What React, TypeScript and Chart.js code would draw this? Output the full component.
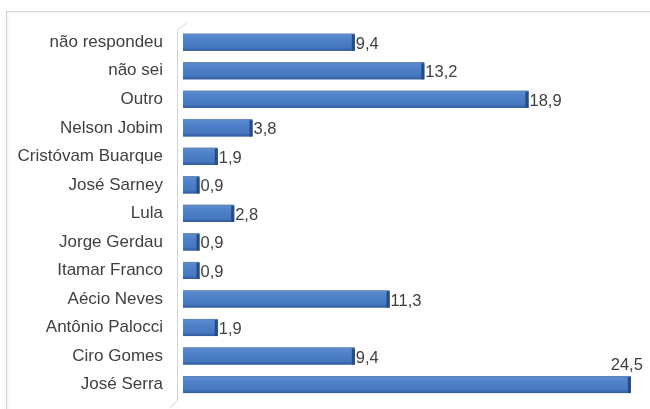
import React, { useEffect, useRef } from "react";
import { Chart, registerables } from "chart.js";

Chart.register(...registerables);

const categories = [
  "não respondeu",
  "não sei",
  "Outro",
  "Nelson Jobim",
  "Cristóvam Buarque",
  "José Sarney",
  "Lula",
  "Jorge Gerdau",
  "Itamar Franco",
  "Aécio Neves",
  "Antônio Palocci",
  "Ciro Gomes",
  "José Serra",
];
const values = [9.4, 13.2, 18.9, 3.8, 1.9, 0.9, 2.8, 0.9, 0.9, 11.3, 1.9, 9.4, 24.5];
const valueLabels = values.map((v) => v.toFixed(1).replace(".", ","));

const FONT = "'Liberation Sans', Arial, sans-serif";

const decorPlugin = {
  id: "decor",
  beforeDatasetsDraw(chart: any) {
    const { ctx, chartArea } = chart;
    ctx.save();
    ctx.strokeStyle = "#d4d4d4";
    ctx.lineWidth = 1;
    const x = chartArea.left - 5.5;
    ctx.beginPath();
    ctx.moveTo(x + 10, chartArea.top - 6);
    ctx.lineTo(x, chartArea.top + 2);
    ctx.lineTo(x, chartArea.bottom + 2);
    ctx.lineTo(x - 8, chartArea.bottom + 9);
    ctx.stroke();
    ctx.restore();
  },
  afterDatasetsDraw(chart: any) {
    const { ctx } = chart;
    const meta = chart.getDatasetMeta(0);
    ctx.save();
    meta.data.forEach((bar: any, i: number) => {
      const h = bar.height;
      const top = bar.y - h / 2;
      const w0 = bar.x - bar.base;
      if (Number.isFinite(top) && Number.isFinite(h) && h > 0) {
        const g = ctx.createLinearGradient(0, top, 0, top + h);
        g.addColorStop(0, "#5f7fae");
        g.addColorStop(0.1, "#5a8bd0");
        g.addColorStop(0.3, "#4f82c9");
        g.addColorStop(0.8, "#4578c0");
        g.addColorStop(1, "#30599a");
        ctx.fillStyle = g;
        ctx.fillRect(bar.base, top, w0, h);
        // end cap (3D look)
        ctx.fillStyle = "#274b85";
        ctx.fillRect(bar.x - 3, top + 1, 3, h - 1);
      }
      // label
      ctx.font = `16.5px ${FONT}`;
      ctx.fillStyle = "#404040";
      ctx.textBaseline = "middle";
      const txt = valueLabels[i];
      const w = ctx.measureText(txt).width;
      if (bar.x + 2 + w > chart.width - 4) {
        ctx.textAlign = "right";
        ctx.fillText(txt, bar.x + 12, top - 11);
      } else {
        ctx.textAlign = "left";
        ctx.fillText(txt, bar.x + 1, bar.y + 2);
      }
    });
    ctx.restore();
  },
};

export default function App() {
  const ref = useRef<HTMLCanvasElement>(null);
  useEffect(() => {
    const c = ref.current!;
    const chart = new Chart(c, {
      type: "bar",
      data: {
        labels: categories,
        datasets: [
          {
            data: values,
            backgroundColor: "#4a7dc4",
            borderWidth: 0,
            categoryPercentage: 1,
            barPercentage: 0.6,
          },
        ],
      },
      options: {
        indexAxis: "y",
        animation: false,
        responsive: false,
        layout: { padding: { left: 0, right: 10, top: 28, bottom: 0 } },
        plugins: { legend: { display: false }, tooltip: { enabled: false } },
        scales: {
          x: {
            min: 0,
            max: 25,
            display: false,
          },
          y: {
            grid: { display: false },
            border: { display: false },
            ticks: {
              color: "#404040",
              font: { family: FONT, size: 17 },
              padding: 12,
            },
            afterFit: (s: any) => {
              s.width = 183;
            },
          },
        },
      },
      plugins: [decorPlugin],
    });
    return () => chart.destroy();
  }, []);
  return (
    <div style={{ position: "fixed", left: 0, top: 0, width: 650, height: 409, background: "#fff", overflow: "hidden" }}>
      <div
        style={{
          position: "absolute",
          left: 6,
          top: 11,
          width: 700,
          height: 500,
          border: "1px solid #d6d6d6",
          boxShadow: "inset 1px 1px 3px rgba(0,0,0,0.06)",
        }}
      />
      <canvas ref={ref} width={650} height={421} style={{ position: "absolute", left: 0, top: 0 }} />
    </div>
  );
}
